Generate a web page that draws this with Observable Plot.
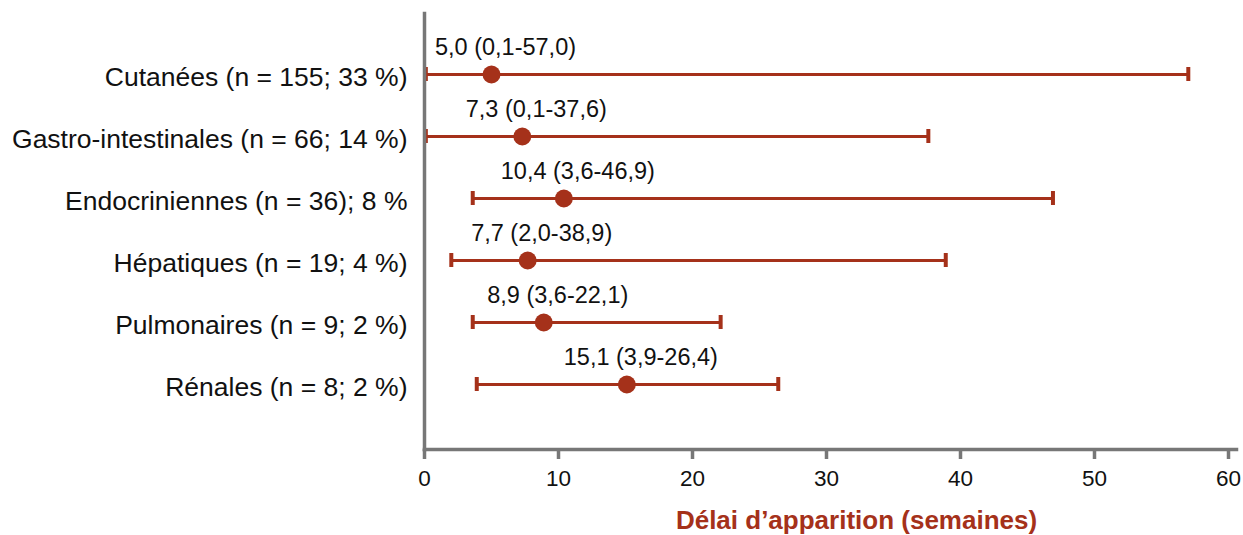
<!DOCTYPE html>
<html>
<head>
<meta charset="utf-8">
<script src="https://cdn.jsdelivr.net/npm/d3@7"></script>
<script src="https://cdn.jsdelivr.net/npm/@observablehq/plot@0.6"></script>
<style>
  html, body { margin: 0; padding: 0; background: #fff; }
  #chart svg { display: block; }
</style>
</head>
<body>
<div id="chart"></div>
<script>
const categories = [
  "Cutanées (n = 155; 33 %)",
  "Gastro-intestinales (n = 66; 14 %)",
  "Endocriniennes (n = 36); 8 %",
  "Hépatiques (n = 19; 4 %)",
  "Pulmonaires (n = 9; 2 %)",
  "Rénales (n = 8; 2 %)"
];
const medians = [5.0, 7.3, 10.4, 7.7, 8.9, 15.1];
const lows    = [0.1, 0.1, 3.6, 2.0, 3.6, 3.9];
const highs   = [57.0, 37.6, 46.9, 38.9, 22.1, 26.4];
const xTicks  = [0, 10, 20, 30, 40, 50, 60];
const xTitle  = "Délai d’apparition (semaines)";

const fmt = v => v.toFixed(1).replace(".", ",");
const data = categories.map((c, i) => ({
  cat: c, med: medians[i], lo: lows[i], hi: highs[i],
  label: `${fmt(medians[i])} (${fmt(lows[i])}-${fmt(highs[i])})`
}));

const red = "#a5311a";
const grey = "#777777";

const chart = Plot.plot({
  width: 1243,
  height: 535,
  marginLeft: 424,
  marginRight: 7,
  marginTop: 13,
  marginBottom: 86,
  style: { fontFamily: "'Liberation Sans', Arial, sans-serif", background: "#fff", color: "#000" },
  x: { domain: [0, 60], insetRight: 8 },
  y: { type: "band", domain: categories, paddingInner: 0.775, paddingOuter: 0, insetTop: 53, insetBottom: 57 },
  marks: [
    Plot.ruleY(data, { x1: "lo", x2: "hi", y: "cat", stroke: red, strokeWidth: 3 }),
    Plot.tickX(data, { x: "lo", y: "cat", stroke: red, strokeWidth: 4 }),
    Plot.tickX(data, { x: "hi", y: "cat", stroke: red, strokeWidth: 4 }),
    Plot.dot(data, { x: "med", y: "cat", r: 9, fill: red, stroke: "none" }),
    Plot.text(data, { x: "med", y: "cat", text: "label", dx: 14, dy: -27, fontSize: 23.5, fill: "#111" }),
    Plot.axisX({ ticks: xTicks, tickSize: 10, tickPadding: 11, stroke: grey, strokeWidth: 3.5, fill: "#111", fontSize: 22.5, label: null }),
    Plot.axisY({ tickSize: 0, tickPadding: 17, fontSize: 26.5, fill: "#111", label: null, dy: 3 }),
    Plot.frame({ anchor: "left", stroke: grey, strokeWidth: 3.5 }),
    Plot.frame({ anchor: "bottom", stroke: grey, strokeWidth: 3.5 }),
    Plot.text([xTitle], { frameAnchor: "bottom", dx: 26, dy: 71, fontSize: 26, fontWeight: "bold", fill: red, lineAnchor: "middle" })
  ]
});
document.getElementById("chart").appendChild(chart);
</script>
</body>
</html>
